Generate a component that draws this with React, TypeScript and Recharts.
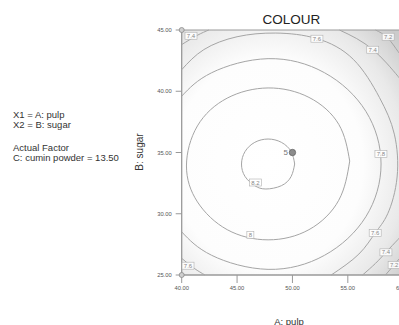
import { ReferenceArea, Scatter, ScatterChart, XAxis, YAxis } from "recharts";

// contour traces in (A: pulp, B: sugar) units, one array per response level
const level82: [number, number][] = [
  [50.2, 34.06], [49.88, 35.08], [49.0, 35.83], [47.8, 36.1], [46.6, 35.83], [45.72, 35.08],
  [45.4, 34.06], [45.72, 33.04], [46.6, 32.29], [47.6, 32.02], [49.0, 32.29], [49.88, 33.04], [50.2, 34.06],
];
const level8: [number, number][] = [
  [55.17, 34.3], [54.18, 37.3], [51.49, 39.5], [47.8, 40.27], [44.11, 39.44], [41.42, 37.17],
  [40.43, 33.9], [41.42, 30.97], [44.11, 28.7], [47.8, 27.87], [51.49, 28.7], [54.18, 31.1], [55.17, 34.3],
];
const level78: [number, number][] = [
  [40, 39.6], [42.7, 41.51], [47.8, 42.66], [52.9, 41.51], [56.63, 38.36], [58.0, 34.06],
  [56.63, 29.76], [52.9, 26.61], [47.8, 25.46], [42.7, 26.61], [40, 28.52],
];
const level76: [number, number][] = [
  [40, 41.76], [42.0, 43.4], [45.0, 44.45], [48.5, 44.75], [52.2, 44.3], [55.5, 42.6], [57.85, 39.5],
  [59.2, 36.5], [59.45, 33.0], [58.6, 30.0], [57.47, 28.43], [56.0, 26.71], [53.5, 25.0],
];
const level76Corner: [number, number][] = [[40, 26.36], [41.14, 25.54], [42.1, 25.0]];
const level74TopLeft: [number, number][] = [[40, 43.81], [41.42, 44.57], [42.45, 45]];
const level74TopRight: [number, number][] = [[54.24, 45], [55.8, 44.3], [57.25, 43.4], [58.5, 42.3], [59.55, 41.2], [60, 40.7]];
const level74BottomRight: [number, number][] = [[56.33, 25], [57.5, 25.95], [58.44, 26.85], [59.53, 27.9], [60, 28.35]];
const level72TopRight: [number, number][] = [[57.5, 45], [58.6, 44.35], [59.53, 43.25], [60, 42.8]];
const level72BottomRight: [number, number][] = [[58.4, 25], [59.2, 25.85], [60, 26.7]];

// where each level is tagged on its line
const contourTags: [number, number, number][] = [
  [40.84, 44.53, 7.4], [52.21, 44.29, 7.6], [57.25, 43.39, 7.4], [58.64, 44.45, 7.2],
  [57.99, 34.88, 7.8], [46.66, 32.55, 8.2], [46.2, 28.27, 8], [57.47, 28.43, 7.6],
  [58.44, 26.85, 7.4], [59.18, 25.82, 7.2], [40.57, 25.76, 7.6],
];

// design points: factorial corners and the replicated centre run
const factorialPoints: [number, number][] = [[40, 25], [40, 45], [60, 25], [60, 45]];
const centrePoints: [number, number, number][] = [[50, 35, 5]];

const pulpTicks = [40, 45, 50, 55, 60];
const sugarTicks = [25, 30, 35, 40, 45];

const LINE = "#a5a5a5";
const FONT = '"Liberation Sans", Arial, sans-serif';

const toPts = (arr: [number, number][]) => arr.map(([x, y]) => ({ x, y }));

const contours = [
  { key: "82", pts: level82 },
  { key: "8", pts: level8 },
  { key: "78", pts: level78 },
  { key: "76", pts: level76 },
  { key: "76c", pts: level76Corner },
  { key: "74tl", pts: level74TopLeft },
  { key: "74tr", pts: level74TopRight },
  { key: "74br", pts: level74BottomRight },
  { key: "72tr", pts: level72TopRight },
  { key: "72br", pts: level72BottomRight },
];

const noDot = () => <g />;

function ContourTag(props: any) {
  const { cx, cy, payload } = props;
  const text = String(payload.level);
  const w = text.length > 1 ? 12 : 7;
  return (
    <g>
      <rect x={cx - w / 2} y={cy - 3.5} width={w} height={7} fill="#fff" fillOpacity={0.85} stroke="#b0b0b0" strokeWidth={0.6} />
      <text x={cx} y={cy} fontSize={6} fill="#888" textAnchor="middle" dominantBaseline="central" fontFamily={FONT}>
        {text}
      </text>
    </g>
  );
}

function FactorialDot(props: any) {
  const { cx, cy } = props;
  return <circle cx={cx} cy={cy} r={2.5} fill="#cfcfcf" stroke="#8a8a8a" strokeWidth={0.8} />;
}

function CentreDot(props: any) {
  const { cx, cy, payload } = props;
  return (
    <g>
      <circle cx={cx} cy={cy} r={3.2} fill="#8c8c8c" stroke="#666" strokeWidth={0.8} />
      <text x={cx - 4.5} y={cy} fontSize={8} fill="#777" textAnchor="end" dominantBaseline="central" fontFamily={FONT}>
        {payload.runs}
      </text>
    </g>
  );
}

const textStyle = { position: "absolute" as const, fontFamily: FONT, color: "#333", lineHeight: 1, whiteSpace: "nowrap" as const };

export default function App() {
  return (
    <div style={{ position: "fixed", left: 0, top: 0, width: 399, height: 325, overflow: "hidden", background: "#fff" }}>
      <ScatterChart width={430} height={325} margin={{ top: 30, right: 26.8, bottom: 30, left: 141.7 }}>
        <defs>
          <radialGradient id="surface" cx="0.39" cy="0.547" r="0.78">
            <stop offset="0" stopColor="#ffffff" />
            <stop offset="0.55" stopColor="#fdfdfd" />
            <stop offset="0.8" stopColor="#e9e9e9" />
            <stop offset="1" stopColor="#cbcbcb" />
          </radialGradient>
        </defs>
        <XAxis
          type="number"
          dataKey="x"
          domain={[40, 60]}
          ticks={pulpTicks}
          interval={0}
          height={20}
          tickSize={8}
          tickMargin={3}
          tickFormatter={(v: number) => v.toFixed(2)}
          tick={{ fontSize: 5.8, fill: "#555", fontFamily: FONT }}
          axisLine={{ stroke: "#999" }}
          tickLine={{ stroke: "#999" }}
        />
        <YAxis
          type="number"
          dataKey="y"
          domain={[25, 45]}
          ticks={sugarTicks}
          interval={0}
          width={40}
          tickSize={6}
          tickMargin={4}
          tickFormatter={(v: number) => v.toFixed(2)}
          tick={{ fontSize: 5.8, fill: "#555", fontFamily: FONT }}
          axisLine={{ stroke: "#999" }}
          tickLine={{ stroke: "#999" }}
        />
        <ReferenceArea x1={40} x2={60} y1={25} y2={45} fill="url(#surface)" fillOpacity={1} stroke="#9a9a9a" strokeWidth={1} />
        {contours.map((c) => (
          <Scatter
            key={c.key}
            data={toPts(c.pts)}
            line={{ stroke: LINE, strokeWidth: 1 }}
            lineJointType="natural"
            shape={noDot}
            isAnimationActive={false}
          />
        ))}
        <Scatter
          data={contourTags.map(([x, y, level]) => ({ x, y, level }))}
          shape={(p: any) => <ContourTag {...p} />}
          isAnimationActive={false}
        />
        <Scatter data={toPts(factorialPoints)} shape={(p: any) => <FactorialDot {...p} />} isAnimationActive={false} />
        <Scatter
          data={centrePoints.map(([x, y, runs]) => ({ x, y, runs }))}
          shape={(p: any) => <CentreDot {...p} />}
          isAnimationActive={false}
        />
      </ScatterChart>

      <div style={{ ...textStyle, left: 191.5, width: 200, top: 13.3, fontSize: 13.5, textAlign: "center", color: "#222" }}>
        COLOUR
      </div>
      <div style={{ ...textStyle, left: 13, top: 109.5, fontSize: 9.5 }}>X1 = A: pulp</div>
      <div style={{ ...textStyle, left: 13, top: 119.5, fontSize: 9.5 }}>X2 = B: sugar</div>
      <div style={{ ...textStyle, left: 13, top: 142.8, fontSize: 9.5 }}>Actual Factor</div>
      <div style={{ ...textStyle, left: 13, top: 153.2, fontSize: 9.5 }}>C: cumin powder = 13.50</div>
      <div
        style={{
          ...textStyle,
          left: 139.8,
          top: 151.7,
          fontSize: 10,
          transform: "translate(-50%, -50%) rotate(-90deg)",
        }}
      >
        B: sugar
      </div>
      <div style={{ ...textStyle, left: 189, width: 200, top: 316.5, fontSize: 9.5, textAlign: "center" }}>A: pulp</div>
    </div>
  );
}
